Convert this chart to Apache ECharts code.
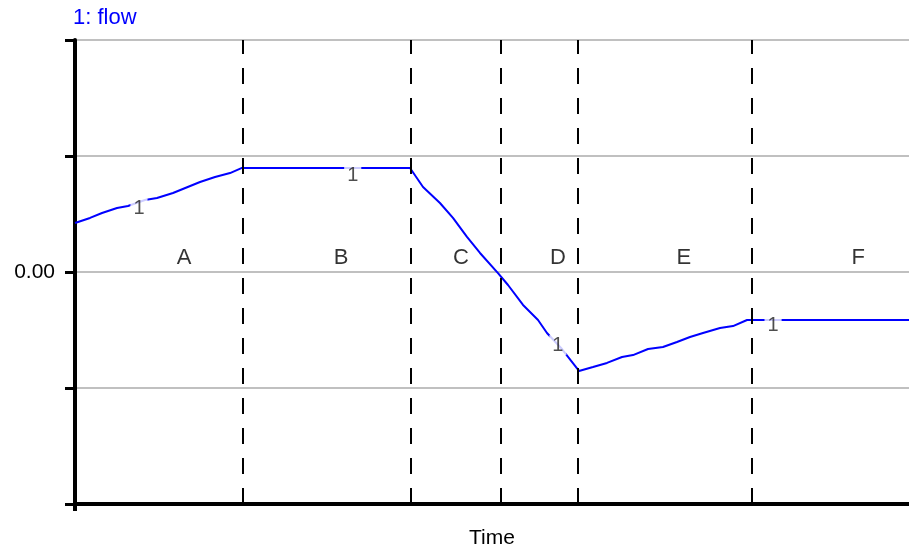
<!DOCTYPE html>
<html>
<head>
<meta charset="utf-8">
<script src="https://cdn.jsdelivr.net/npm/echarts@6/dist/echarts.min.js"></script>
<style>html,body{margin:0;padding:0;background:#fff}#c{width:909px;height:548px}</style>
</head>
<body>
<div id="c"></div>
<script>
// Time values and flow values
const flowTime = [0, 1.8, 3.24, 5.04, 6.35, 8.39, 9.83, 11.75, 14.99, 16.79, 18.59, 20.02, 40.17, 41.73, 43.76, 45.32, 47.0, 48.56, 50.72, 51.92, 53.72, 55.52, 56.59, 58.39, 60.43, 62.11, 63.79, 65.59, 66.91, 68.71, 70.5, 72.18, 73.74, 75.3, 77.34, 78.9, 80.58, 100];
const flowValue = [0.422, 0.466, 0.509, 0.552, 0.569, 0.621, 0.638, 0.681, 0.776, 0.819, 0.853, 0.897, 0.897, 0.733, 0.595, 0.466, 0.302, 0.164, -0.009, -0.112, -0.284, -0.414, -0.526, -0.664, -0.853, -0.819, -0.784, -0.733, -0.716, -0.664, -0.647, -0.603, -0.56, -0.526, -0.483, -0.466, -0.414, -0.414];
// Series id markers "1" along the line
const markerTime = [7.67, 33.3, 57.9, 83.7];
const markerValue = [0.55, 0.836, -0.63, -0.457];
// Phase boundaries and phase labels
const boundaries = [20.1, 40.2, 51.0, 60.3, 81.2];
const phaseNames = ['A', 'B', 'C', 'D', 'E', 'F'];
const phaseTime = [13.07, 31.9, 46.28, 57.9, 73.0, 93.9];
const phaseLevel = 0.12;
const yTicks = [-2, -1, 0, 1, 2];

const chart = echarts.init(document.getElementById('c'), null, {renderer: 'canvas'});
const font = 'Liberation Sans, Arial, sans-serif';
chart.setOption({
  animation: false,
  title: {
    text: '1: flow', left: 68, top: 2,
    textStyle: {color: '#0000ff', fontSize: 22, fontWeight: 'normal', fontFamily: font}
  },
  grid: {left: 75, right: 0, top: 40, bottom: 44, containLabel: false, outerBoundsMode: 'none'},
  xAxis: {
    type: 'value', min: 0, max: 100,
    name: 'Time', nameLocation: 'middle', nameGap: 24,
    nameTextStyle: {color: '#000', fontSize: 21, fontFamily: font},
    axisLine: {show: true, onZero: false, lineStyle: {color: '#000', width: 4}},
    axisTick: {show: true, customValues: [0], length: 7, lineStyle: {color: '#000', width: 4}},
    axisLabel: {show: false},
    splitLine: {show: false}
  },
  yAxis: {
    type: 'value', min: yTicks[0], max: yTicks[yTicks.length - 1], interval: 1,
    axisLine: {show: true, lineStyle: {color: '#000', width: 4}},
    axisTick: {show: true, length: 10, lineStyle: {color: '#000', width: 3}},
    axisLabel: {
      color: '#000', fontSize: 21, fontFamily: font, margin: 20,
      formatter: v => v === 0 ? '0.00' : ''
    },
    splitLine: {show: true, lineStyle: {color: '#c0c0c0', width: 2}}
  },
  series: [
    {
      type: 'line', name: 'flow',
      data: flowTime.map((t, i) => [t, flowValue[i]]),
      showSymbol: false, symbol: 'none',
      lineStyle: {color: '#0000ff', width: 2},
      z: 3,
      markLine: {
        silent: true, symbol: ['none', 'none'],
        label: {show: false},
        lineStyle: {color: '#000', width: 2, type: [16, 14]},
        data: boundaries.map(b => ({xAxis: b}))
      }
    },
    {
      type: 'scatter', symbolSize: 0, z: 5, silent: true,
      data: markerTime.map((t, i) => [t, markerValue[i]]),
      label: {
        show: true, position: 'inside', formatter: '1',
        color: '#222', fontSize: 20, fontFamily: font,
        backgroundColor: '#ffffff', padding: [0, 3]
      }
    },
    {
      type: 'scatter', symbolSize: 0, z: 5, silent: true,
      data: phaseTime.map((t, i) => ({value: [t, phaseLevel], name: phaseNames[i]})),
      label: {
        show: true, position: 'inside', formatter: p => p.name,
        color: '#000', fontSize: 22, fontFamily: font
      }
    }
  ]
});
</script>
</body>
</html>
